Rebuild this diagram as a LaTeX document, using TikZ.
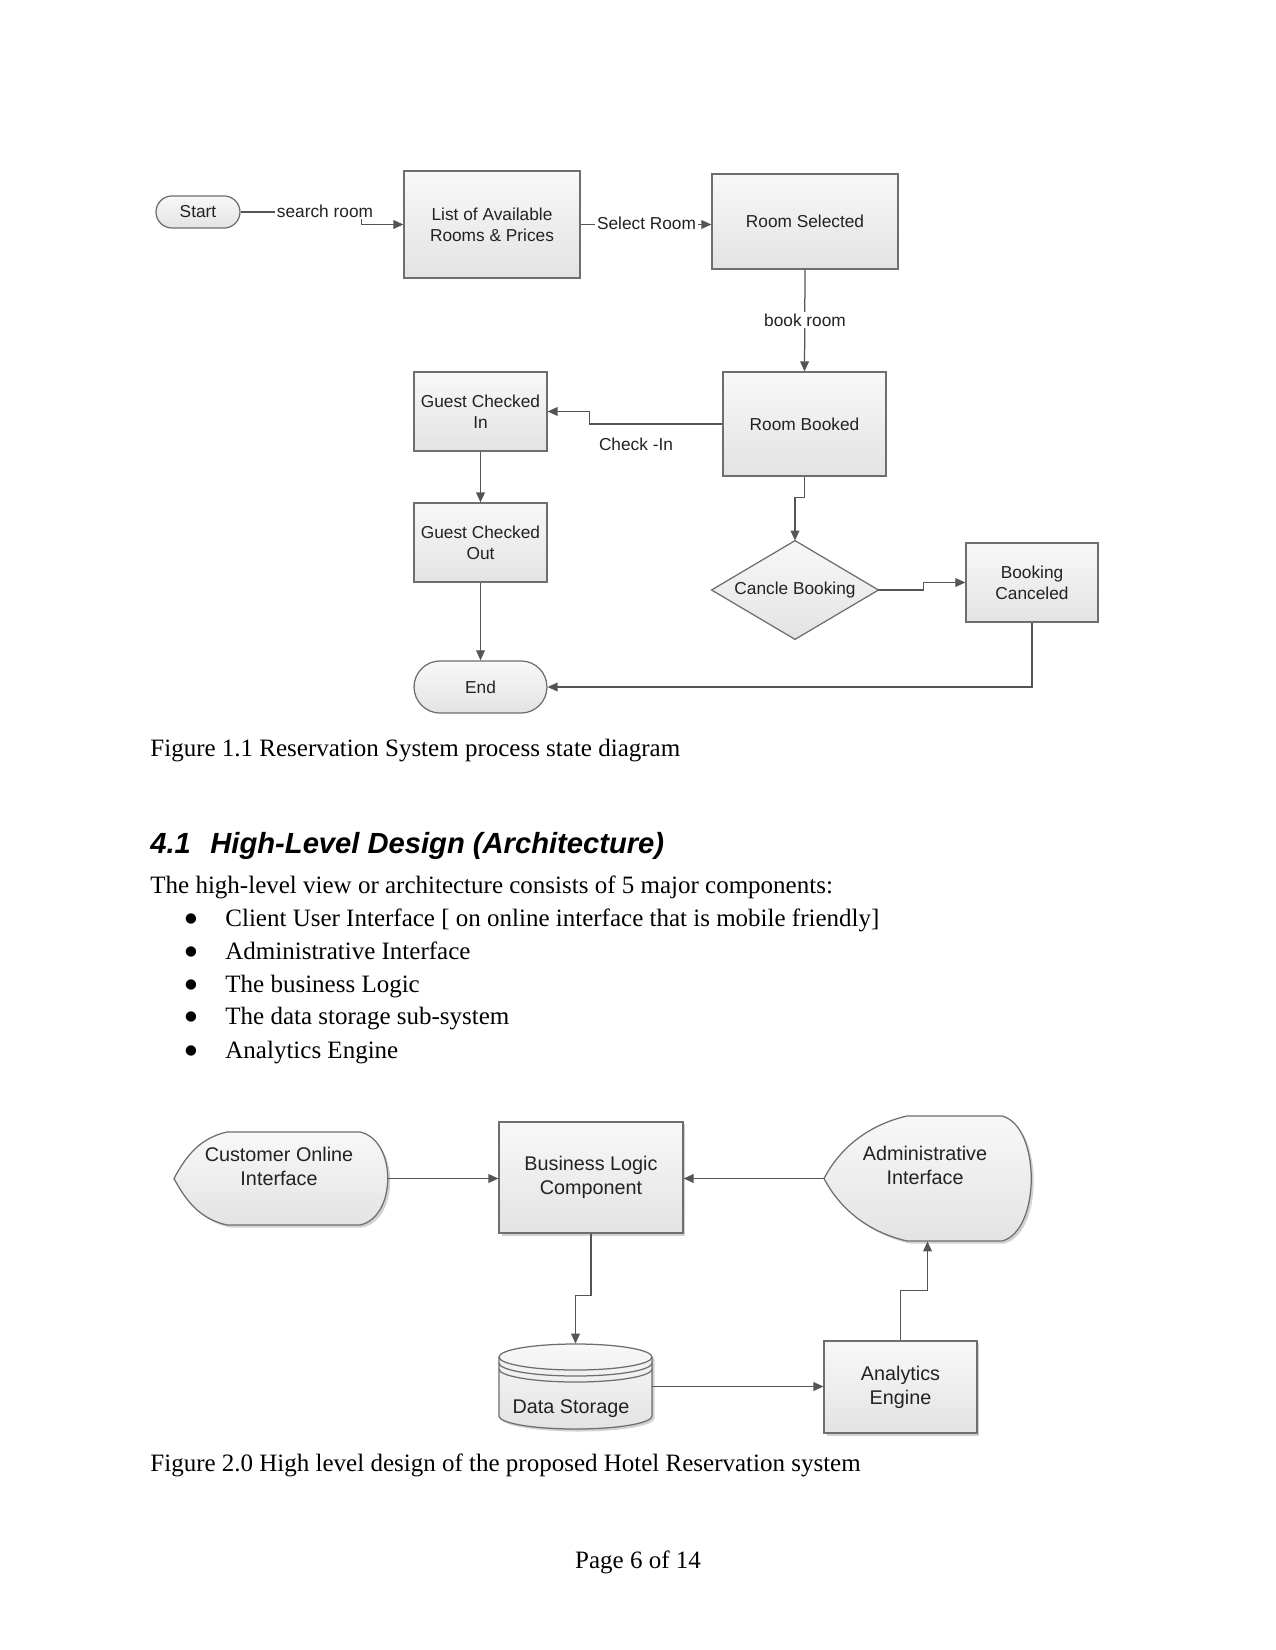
\documentclass[tikz,border=0pt]{standalone}
\usepackage{fontspec}
\setmainfont{Liberation Serif}
\setsansfont{Liberation Sans}
\newfontfamily\diagfont{Liberation Sans}
\newfontfamily\dotfont{DejaVu Sans}
\usetikzlibrary{arrows.meta,backgrounds,shadows}
\definecolor{edgegray}{HTML}{6E6E6E}
\definecolor{linegray}{HTML}{555555}
\definecolor{fillTop}{HTML}{F8F8F8}
\definecolor{fillBot}{HTML}{E3E3E3}
\definecolor{txtgray}{HTML}{222222}
\begin{document}
\begin{tikzpicture}[x=0.48pt,y=-0.48pt,
  fone/.style={font=\diagfont\fontsize{8.3}{10}\selectfont,text=txtgray,align=center},
  ftwo/.style={font=\diagfont\fontsize{9.5}{11.5}\selectfont,text=txtgray,align=center,inner sep=0pt},
  box/.style={fone,draw=edgegray,line width=0.6pt,top color=fillTop,bottom color=fillBot,inner sep=0pt},
  pill/.style={box,rounded corners=#1},
  bigbox/.style={ftwo,draw=edgegray,line width=0.6pt,top color=fillTop,bottom color=fillBot,
     drop shadow={shadow xshift=1.2pt,shadow yshift=-1.2pt,fill=black!35,opacity=0.5}},
  ghost/.style={draw=none,fill=none,inner sep=0pt},
  conn/.style={draw=linegray,line width=0.6pt,-{Triangle[length=4.8pt,width=4.2pt]}},
  lbl/.style={fone,fill=white,inner sep=1pt},
  body/.style={font=\fontsize{12}{14}\selectfont,inner sep=0pt,anchor=base west},
  dot/.style={font=\dotfont\fontsize{6.5}{7}\selectfont,inner sep=0pt,text height=0pt,text depth=0pt,anchor=center},
]
\useasboundingbox (0,0) rectangle (1275,1650);

% ---------------- Figure 1 ----------------
\node[pill=7.7pt,minimum width=40.3pt,minimum height=15.4pt] (st) at (198,212) {Start};
\node[box,minimum width=84.5pt,minimum height=51.4pt] (lst) at (492,224.5) {List of Available\\Rooms \& Prices};
\node[box,minimum width=89.3pt,minimum height=45.6pt] (rs) at (805,221.5) {Room Selected};
\node[box,minimum width=78.2pt,minimum height=49.9pt] (rb) at (804.5,424) {Room Booked};
\node[box,minimum width=63.8pt,minimum height=37.9pt] (gci) at (480.5,411.5) {Guest Checked\\In};
\node[box,minimum width=63.8pt,minimum height=37.9pt] (gco) at (480.5,542.5) {Guest Checked\\Out};
\node[pill=12.5pt,minimum width=63.8pt,minimum height=25pt] (en) at (480.5,687) {End};
\node[fone,ghost,minimum width=79.7pt,minimum height=47pt] (cb) at (795,590) {Cancle Booking};
\node[box,minimum width=63.4pt,minimum height=37.9pt] (bc) at (1032,582.5) {Booking\\Canceled};

% ---------------- Figure 2 ----------------
\node[ghost,minimum width=102.7pt,minimum height=44.6pt] (coi) at (281,1178.5) {};
\node[ftwo] (coit) at (279,1166) {Customer Online\\Interface};
\node[bigbox,minimum width=88.3pt,minimum height=53.3pt] (bl) at (591,1177.5) {Business Logic\\Component};
\node[ghost,minimum width=99.4pt,minimum height=60pt] (adm) at (927.5,1178.5) {};
\node[ftwo] (admt) at (925,1165) {Administrative\\Interface};
\node[ghost,minimum width=73.4pt,minimum height=40.8pt] (ds) at (575.5,1386.5) {};
\node[ftwo] (dst) at (571,1409) {Data Storage};
\node[bigbox,minimum width=73.4pt,minimum height=44.2pt] (ae) at (900.5,1387) {Analytics\\Engine};

\begin{scope}[on background layer]
  \fill[white] (0,0) rectangle (1275,1650);
  % diamond
  \draw[draw=edgegray,line width=0.6pt,top color=fillTop,bottom color=fillBot]
    (cb.north) -- (cb.east) -- (cb.south) -- (cb.west) -- cycle;
  % customer online interface (display shape)
  \draw[draw=edgegray,line width=0.6pt,top color=fillTop,bottom color=fillBot,
        drop shadow={shadow xshift=1.2pt,shadow yshift=-1.2pt,fill=black!35,opacity=0.5}]
    (174,1178.5) .. controls (186,1156) and (200,1138) .. (227,1132) -- (360,1132)
    .. controls (397,1140) and (397,1217) .. (360,1225) -- (227,1225)
    .. controls (200,1219) and (186,1201) .. cycle;
  % administrative interface
  \draw[draw=edgegray,line width=0.6pt,top color=fillTop,bottom color=fillBot,
        drop shadow={shadow xshift=1.2pt,shadow yshift=-1.2pt,fill=black!35,opacity=0.5}]
    (824,1178.5) .. controls (840,1148) and (868,1125) .. (907,1116) -- (1002,1116)
    .. controls (1041,1126) and (1041,1231) .. (1002,1241) -- (907,1241)
    .. controls (868,1232) and (840,1209) .. cycle;
  % data storage cylinder
  \draw[draw=edgegray,line width=0.6pt,top color=fillTop,bottom color=fillBot,
        drop shadow={shadow xshift=1.2pt,shadow yshift=-1.2pt,fill=black!35,opacity=0.5}]
    (499,1357) -- (499,1416) arc[start angle=180,end angle=360,x radius=36.72pt,y radius=6.24pt]
    -- (652,1357) arc[start angle=0,end angle=180,x radius=36.72pt,y radius=6.24pt] -- cycle;
  \draw[draw=edgegray,line width=0.6pt] (499,1357) arc[start angle=180,end angle=360,x radius=36.72pt,y radius=6.24pt];
  \draw[draw=edgegray,line width=0.6pt] (499,1363) arc[start angle=180,end angle=360,x radius=36.72pt,y radius=6.24pt];
  \draw[draw=edgegray,line width=0.6pt] (499,1369) arc[start angle=180,end angle=360,x radius=36.72pt,y radius=6.24pt];
\end{scope}

% connectors figure 1
\draw[conn] (st.east) -- ++(121,0) |- (lst.west);
\node[lbl] (lsearch) at (325,211) {search room};
\draw[conn] (lst.east) -- (rs.west |- lst.east);
\node[lbl] (lselect) at (646.5,223) {Select Room};
\draw[conn] (rs.south) -- (rb.north);
\node[lbl] (lbook) at (805,320) {book room};
\draw[conn] (rb.west) -- ++(-133,0) |- (gci.east);
\node[fone,inner sep=0pt] (lcheck) at (636,444) {Check -In};
\draw[conn] (gci.south) -- (gco.north);
\draw[conn] (gco.south) -- (en.north);
\draw[conn] (rb.south) -- ++(0,21) -| (cb.north);
\draw[conn] (cb.east) -- ++(45,0) |- (bc.west);
\draw[conn] (bc.south) |- (en.east);

% connectors figure 2
\draw[conn] (coi.east) -- (coi.east -| bl.west);
\draw[conn] (adm.west) -- (adm.west -| bl.east);
\draw[conn] (bl.south) -- ++(0,62) -| (ds.north);
\draw[conn] (ds.east) -- (ds.east -| ae.west);
\draw[conn] (ae.north) -- ++(0,-50) -| (adm.south);

% text
\node[body] (cap1) at (150,756) {Figure 1.1 Reservation System process state diagram};
\node[body,font=\sffamily\bfseries\itshape\fontsize{14}{16}\selectfont] (hnum) at (150,853) {4.1};
\node[body,font=\sffamily\bfseries\itshape\fontsize{14}{16}\selectfont] (htxt) at (210,853) {High-Level Design (Architecture)};
\node[body] (intro) at (150,893) {The high-level view or architecture consists of 5 major components:};
\node[dot] (d1) at (191,922.5) {●};
\node[body] (t1) at (225,926) {Client User Interface [ on online interface that is mobile friendly]};
\node[dot] (d2) at (191,955.5) {●};
\node[body] (t2) at (225,959) {Administrative Interface};
\node[dot] (d3) at (191,988.5) {●};
\node[body] (t3) at (225,992) {The business Logic};
\node[dot] (d4) at (191,1020.5) {●};
\node[body] (t4) at (225,1024) {The data storage sub-system};
\node[dot] (d5) at (191,1054.5) {●};
\node[body] (t5) at (225,1058) {Analytics Engine};
\node[body] (cap2) at (150,1471) {Figure 2.0 High level design of the proposed Hotel Reservation system};
\node[body,anchor=base] (page) at (638,1568) {Page 6 of 14};
\end{tikzpicture}
\end{document}
